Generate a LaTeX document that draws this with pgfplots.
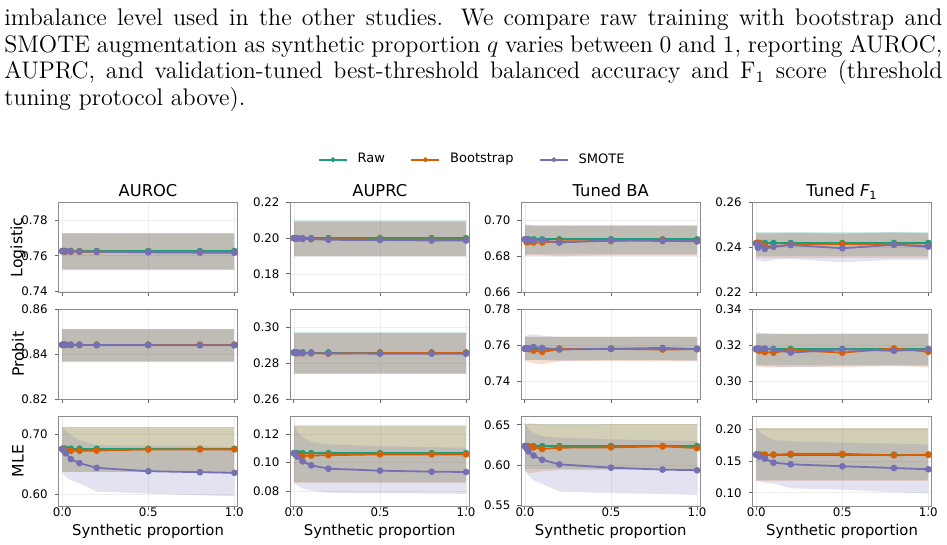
\documentclass[border=0pt]{standalone}
\usepackage{fontspec}
\usepackage{pgfplots}
\pgfplotsset{compat=1.18}
\usepackage{pgfplotstable}
\newfontfamily\dejavu{DejaVu Sans}
\definecolor{craw}{HTML}{1B9E77}
\definecolor{cboot}{HTML}{D95F02}
\definecolor{csmote}{HTML}{7570B3}

% mean curves: x, raw, bootstrap, smote
\pgfplotstableread{
x    rm     bm     sm
0    0.7627 0.7626 0.7626
0.01 0.7627 0.7625 0.7626
0.02 0.7627 0.7624 0.7625
0.05 0.7627 0.7624 0.7624
0.1  0.7627 0.7624 0.7624
0.2  0.7627 0.7623 0.7623
0.5  0.7627 0.7622 0.7620
0.8  0.7627 0.7621 0.7618
1.0  0.7627 0.7620 0.7618
}\tLA
\pgfplotstableread{
x    rm     bm     sm
0    0.2000 0.2000 0.2000
0.01 0.2000 0.1999 0.1999
0.02 0.2000 0.1998 0.1998
0.05 0.2000 0.1996 0.1997
0.1  0.2000 0.1995 0.1996
0.2  0.2000 0.1994 0.1991
0.5  0.2000 0.1993 0.1990
0.8  0.2000 0.1992 0.1987
1.0  0.2000 0.1992 0.1987
}\tLP
\pgfplotstableread{
x    rm     bm     sm
0    0.6893 0.6893 0.6893
0.01 0.6893 0.6877 0.6891
0.02 0.6893 0.6878 0.6889
0.05 0.6893 0.6876 0.6888
0.1  0.6893 0.6876 0.6888
0.2  0.6893 0.6882 0.6875
0.5  0.6893 0.6884 0.6888
0.8  0.6893 0.6891 0.6884
1.0  0.6893 0.6883 0.6883
}\tLB
\pgfplotstableread{
x    rm     bm     sm
0    0.2419 0.2419 0.2416
0.01 0.2419 0.2418 0.2398
0.02 0.2419 0.2418 0.2408
0.05 0.2419 0.2406 0.2393
0.1  0.2419 0.2403 0.2403
0.2  0.2419 0.2412 0.2410
0.5  0.2419 0.2415 0.2396
0.8  0.2419 0.2412 0.2411
1.0  0.2419 0.2406 0.2403
}\tLF
\pgfplotstableread{
x    rm     bm     sm
0    0.8443 0.8442 0.8442
0.01 0.8443 0.8442 0.8442
0.02 0.8443 0.8442 0.8442
0.05 0.8443 0.8442 0.8442
0.1  0.8443 0.8442 0.8442
0.2  0.8443 0.8442 0.8441
0.5  0.8443 0.8442 0.8441
0.8  0.8443 0.8442 0.8440
1.0  0.8443 0.8442 0.8440
}\tPA
\pgfplotstableread{
x    rm     bm     sm
0    0.2860 0.2858 0.2859
0.01 0.2860 0.2857 0.2857
0.02 0.2860 0.2856 0.2856
0.05 0.2860 0.2855 0.2856
0.1  0.2860 0.2856 0.2856
0.2  0.2860 0.2854 0.2855
0.5  0.2860 0.2856 0.2853
0.8  0.2860 0.2856 0.2853
1.0  0.2860 0.2856 0.2853
}\tPP
\pgfplotstableread{
x    rm     bm     sm
0    0.7583 0.7583 0.7583
0.01 0.7583 0.7582 0.7584
0.02 0.7583 0.7580 0.7585
0.05 0.7583 0.7572 0.7592
0.1  0.7583 0.7565 0.7587
0.2  0.7583 0.7580 0.7578
0.5  0.7583 0.7582 0.7582
0.8  0.7583 0.7578 0.7587
1.0  0.7583 0.7580 0.7580
}\tPB
\pgfplotstableread{
x    rm     bm     sm
0    0.3180 0.3178 0.3182
0.01 0.3180 0.3175 0.3181
0.02 0.3180 0.3170 0.3180
0.05 0.3180 0.3163 0.3183
0.1  0.3180 0.3160 0.3178
0.2  0.3180 0.3174 0.3160
0.5  0.3180 0.3160 0.3178
0.8  0.3180 0.3183 0.3170
1.0  0.3180 0.3165 0.3178
}\tPF
\pgfplotstableread{
x    rm     bm     sm
0    0.6760 0.6755 0.6755
0.01 0.6760 0.6745 0.6726
0.02 0.6760 0.6735 0.6685
0.05 0.6760 0.6726 0.6587
0.1  0.6760 0.6726 0.6520
0.2  0.6760 0.6730 0.6441
0.5  0.6760 0.6748 0.6385
0.8  0.6760 0.6750 0.6369
1.0  0.6760 0.6750 0.6358
}\tMA
\pgfplotstableread{
x    rm     bm     sm
0    0.1066 0.1066 0.1066
0.01 0.1066 0.1060 0.1055
0.02 0.1066 0.1052 0.1042
0.05 0.1066 0.1048 0.1009
0.1  0.1066 0.1050 0.0981
0.2  0.1066 0.1052 0.0958
0.5  0.1066 0.1058 0.0944
0.8  0.1066 0.1058 0.0937
1.0  0.1066 0.1058 0.0935
}\tMP
\pgfplotstableread{
x    rm     bm     sm
0    0.6235 0.6235 0.6235
0.01 0.6235 0.6230 0.6202
0.02 0.6235 0.6228 0.6170
0.05 0.6235 0.6220 0.6118
0.1  0.6235 0.6200 0.6065
0.2  0.6235 0.6216 0.6008
0.5  0.6235 0.6220 0.5967
0.8  0.6235 0.6232 0.5943
1.0  0.6235 0.6212 0.5935
}\tMB
\pgfplotstableread{
x    rm     bm     sm
0    0.1600 0.1600 0.1600
0.01 0.1600 0.1598 0.1590
0.02 0.1600 0.1595 0.1570
0.05 0.1600 0.1597 0.1536
0.1  0.1600 0.1598 0.1474
0.2  0.1600 0.1612 0.1448
0.5  0.1600 0.1612 0.1417
0.8  0.1600 0.1590 0.1390
1.0  0.1600 0.1600 0.1370
}\tMF

\tikzset{ln/.style={#1, line width=0.9pt, mark=*, mark size=1.2pt, mark options={solid, fill=#1, draw=#1}}}
\pgfplotsset{
  panel/.style={
    scale only axis, width=89.75pt, height=45pt,
    xmin=-0.023, xmax=1.02, xtick={0,0.5,1},
    axis line style={black!45, line width=0.5pt},
    tick pos=left, tick align=outside, major tick length=1.8pt,
    tick style={black!60, line width=0.5pt},
    grid=major, grid style={black!7, line width=0.4pt},
    /pgf/number format/assume math mode=true,
    ticklabel style={font=\dejavu\fontsize{5.9}{6}\selectfont},
    yticklabel style={/pgf/number format/fixed, /pgf/number format/fixed zerofill, /pgf/number format/precision=2},
    xticklabel style={inner sep=0pt, yshift=1pt, /pgf/number format/fixed, /pgf/number format/fixed zerofill, /pgf/number format/precision=1},
    every axis title shift=0pt,
    title style={font=\dejavu\fontsize{8.15}{9}\selectfont, at={(0.5,1)}, anchor=base, yshift=2.9pt},
    every axis y label/.style={at={(-0.2246,0.5)}, rotate=90, anchor=center, font=\dejavu\fontsize{7.85}{9}\selectfont},
    every axis x label/.style={at={(0.5,0)}, anchor=base, yshift=-14.9pt, font=\dejavu\fontsize{7.4}{9}\selectfont},
    anchor=north west,
  },
  noxlab/.style={xticklabels={}},
}
\newcommand\band[2]{\addplot[draw=none, fill=#1, fill opacity=0.2, forget plot] coordinates {#2};}
\newcommand\means[1]{%
  \addplot[ln=craw] table[x=x,y=rm]{#1};
  \addplot[ln=cboot] table[x=x,y=bm]{#1};
  \addplot[ln=csmote] table[x=x,y=sm]{#1};
}

\begin{document}
\begin{tikzpicture}
\path[use as bounding box] (0,0) rectangle (473.5pt,-272.5pt);
\node[anchor=base west, inner sep=0pt, text width=469pt, align=justify, font=\fontsize{12}{13.3}\selectfont] at (2pt,-12.85pt)
{imbalance level used in the other studies.  We compare raw training with bootstrap and\linebreak SMOTE augmentation as synthetic proportion $q$ varies between 0 and 1, reporting AUROC,\linebreak AUPRC, and validation-tuned best-threshold balanced accuracy and F$_1$ score (threshold\linebreak tuning protocol above).};

% ---------------- Row 1: Logistic
\begin{axis}[panel, noxlab, at={(29.15pt,-101.15pt)}, ymin=0.7396, ymax=0.7900, ytick={0.74,0.76,0.78}, title={AUROC}, ylabel={Logistic},
  legend style={at={(2.312,1.473)}, anchor=center, draw=none, fill=none, legend columns=3,
    font=\dejavu\fontsize{6.5}{7}\selectfont,
    /tikz/every odd column/.append style={column sep=3pt},
    /tikz/every even column/.append style={column sep=10.8pt}},
  legend image code/.code={\draw[mark repeat=2, mark phase=2, #1, mark size=0.8pt, line width=0.8pt] plot coordinates {(0pt,0pt) (7pt,0pt) (14pt,0pt)};}]
\band{craw}{(0,0.7730)(1,0.7730)(1,0.7524)(0,0.7524)}
\band{cboot}{(0,0.7726)(1,0.7726)(1,0.7522)(0,0.7522)}
\band{csmote}{(0,0.7724)(0.2,0.7724)(0.5,0.7722)(1,0.7722)(1,0.7521)(0.5,0.7522)(0,0.7522)}
\means{\tLA}
\legend{Raw,Bootstrap,SMOTE}
\end{axis}
\begin{axis}[panel, noxlab, at={(145pt,-101.15pt)}, ymin=0.1697, ymax=0.2201, ytick={0.18,0.20,0.22}, title={AUPRC}]
\band{craw}{(0,0.2100)(1,0.2100)(1,0.1903)(0,0.1903)}
\band{cboot}{(0,0.2095)(1,0.2095)(1,0.1898)(0,0.1898)}
\band{csmote}{(0,0.2088)(1,0.2088)(1,0.1893)(0,0.1893)}
\means{\tLP}
\end{axis}
\begin{axis}[panel, noxlab, at={(260.5pt,-101.15pt)}, ymin=0.6599, ymax=0.7099, ytick={0.66,0.68,0.70}, title={Tuned BA}]
\band{craw}{(0,0.6972)(1,0.6972)(1,0.6812)(0,0.6812)}
\band{cboot}{(0,0.6965)(1,0.6965)(1,0.6802)(0,0.6802)}
\band{csmote}{(0,0.6970)(0.01,0.6978)(0.02,0.6975)(0.05,0.6970)(0.1,0.6970)(0.2,0.6968)(0.5,0.6970)(1,0.6970)(1,0.6805)(0.5,0.6805)(0.2,0.6800)(0.1,0.6805)(0,0.6805)}
\means{\tLB}
\end{axis}
\begin{axis}[panel, noxlab, at={(376.15pt,-101.15pt)}, ymin=0.2199, ymax=0.2601, ytick={0.22,0.24,0.26}, title={Tuned {\itshape F}\textsubscript{1}}]
\band{craw}{(0,0.2470)(1,0.2470)(1,0.2360)(0,0.2360)}
\band{cboot}{(0,0.2465)(1,0.2465)(1,0.2352)(0,0.2352)}
\band{csmote}{(0,0.2465)(0.01,0.2462)(0.02,0.2462)(0.05,0.2460)(0.1,0.2462)(0.2,0.2465)(0.5,0.2460)(0.8,0.2468)(1,0.2462)(1,0.2345)(0.8,0.2345)(0.5,0.2333)(0.2,0.2348)(0.1,0.2345)(0.05,0.2335)(0.02,0.2342)(0.01,0.2340)(0,0.2350)}
\means{\tLF}
\end{axis}

% ---------------- Row 2: Probit
\begin{axis}[panel, noxlab, at={(29.15pt,-154.65pt)}, ymin=0.8199, ymax=0.8601, ytick={0.82,0.84,0.86}, ylabel={Probit}]
\band{craw}{(0,0.8513)(1,0.8513)(1,0.8368)(0,0.8368)}
\band{cboot}{(0,0.8511)(1,0.8511)(1,0.8366)(0,0.8366)}
\band{csmote}{(0,0.8511)(1,0.8511)(1,0.8366)(0,0.8366)}
\means{\tPA}
\end{axis}
\begin{axis}[panel, noxlab, at={(145pt,-154.65pt)}, ymin=0.2599, ymax=0.3100, ytick={0.26,0.28,0.30}]
\band{craw}{(0,0.2975)(1,0.2975)(1,0.2743)(0,0.2743)}
\band{cboot}{(0,0.2970)(1,0.2970)(1,0.2738)(0,0.2738)}
\band{csmote}{(0,0.2968)(1,0.2968)(1,0.2740)(0,0.2740)}
\means{\tPP}
\end{axis}
\begin{axis}[panel, noxlab, at={(260.5pt,-154.65pt)}, ymin=0.7302, ymax=0.7801, ytick={0.74,0.76,0.78}]
\band{craw}{(0,0.7648)(1,0.7648)(1,0.7518)(0,0.7518)}
\band{cboot}{(0,0.7650)(1,0.7650)(1,0.7512)(0.8,0.7512)(0.5,0.7515)(0.2,0.7512)(0.1,0.7497)(0.05,0.7502)(0.02,0.7508)(0.01,0.7512)(0,0.7515)}
\band{csmote}{(0,0.7650)(0.01,0.7655)(0.02,0.7660)(0.05,0.7662)(0.1,0.7655)(0.2,0.7648)(0.5,0.7648)(0.8,0.7650)(1,0.7648)(1,0.7515)(0.8,0.7518)(0.5,0.7518)(0.2,0.7515)(0.1,0.7518)(0.05,0.7522)(0.02,0.7520)(0.01,0.7520)(0,0.7518)}
\means{\tPB}
\end{axis}
\begin{axis}[panel, noxlab, at={(376.15pt,-154.65pt)}, ymin=0.2900, ymax=0.3401, ytick={0.30,0.32,0.34}]
\band{craw}{(0,0.3265)(1,0.3265)(1,0.3092)(0,0.3092)}
\band{cboot}{(0,0.3265)(1,0.3265)(1,0.3080)(0.8,0.3085)(0.5,0.3080)(0.2,0.3082)(0.1,0.3078)(0.05,0.3078)(0.02,0.3080)(0.01,0.3082)(0,0.3085)}
\band{csmote}{(0,0.3265)(0.01,0.3275)(0.02,0.3272)(0.05,0.3268)(0.1,0.3265)(0.2,0.3262)(0.5,0.3265)(1,0.3265)(1,0.3085)(0.5,0.3085)(0.2,0.3078)(0.1,0.3082)(0.05,0.3085)(0.02,0.3088)(0,0.3090)}
\means{\tPF}
\end{axis}

% ---------------- Row 3: MLE
\begin{axis}[panel, at={(29.15pt,-208pt)}, ymin=0.5804, ymax=0.7307, ytick={0.60,0.70}, ylabel={MLE}, xlabel={Synthetic proportion}]
\band{craw}{(0,0.7125)(1,0.7125)(1,0.6380)(0,0.6380)}
\band{cboot}{(0,0.7115)(1,0.7115)(1,0.6370)(0,0.6370)}
\band{csmote}{(0,0.7115)(0.01,0.7090)(0.02,0.7060)(0.05,0.6990)(0.1,0.6900)(0.2,0.6820)(0.5,0.6810)(0.8,0.6800)(1,0.6790)(1,0.5966)(0.8,0.5985)(0.5,0.6010)(0.2,0.6045)(0.1,0.6180)(0.05,0.6235)(0.02,0.6290)(0.01,0.6330)(0,0.6370)}
\means{\tMA}
\end{axis}
\begin{axis}[panel, at={(145pt,-208pt)}, ymin=0.0697, ymax=0.1326, ytick={0.08,0.10,0.12}, xlabel={Synthetic proportion}]
\band{craw}{(0,0.1262)(1,0.1262)(1,0.0862)(0,0.0862)}
\band{cboot}{(0,0.1258)(1,0.1258)(1,0.0858)(0,0.0858)}
\band{csmote}{(0,0.1262)(0.01,0.1240)(0.02,0.1215)(0.05,0.1180)(0.1,0.1145)(0.2,0.1128)(0.5,0.1115)(0.8,0.1108)(1,0.1104)(1,0.0782)(0.8,0.0784)(0.5,0.0786)(0.2,0.0790)(0.1,0.0805)(0.05,0.0820)(0.02,0.0838)(0.01,0.0850)(0,0.0860)}
\means{\tMP}
\end{axis}
\begin{axis}[panel, at={(260.5pt,-208pt)}, ymin=0.5490, ymax=0.6610, ytick={0.55,0.60,0.65}, xlabel={Synthetic proportion}]
\band{craw}{(0,0.6510)(1,0.6510)(1,0.5945)(0,0.5945)}
\band{cboot}{(0,0.6510)(0.01,0.6515)(0.02,0.6518)(0.05,0.6515)(0.1,0.6505)(0.2,0.6505)(0.5,0.6508)(0.8,0.6510)(1,0.6508)(1,0.5935)(0.8,0.5940)(0.5,0.5940)(0.2,0.5935)(0.1,0.5920)(0.05,0.5905)(0.02,0.5900)(0.01,0.5910)(0,0.5925)}
\band{csmote}{(0,0.6510)(0.01,0.6480)(0.02,0.6450)(0.05,0.6400)(0.1,0.6360)(0.2,0.6340)(0.5,0.6320)(0.8,0.6305)(1,0.6300)(1,0.5628)(0.8,0.5640)(0.5,0.5650)(0.2,0.5670)(0.1,0.5766)(0.05,0.5810)(0.02,0.5870)(0.01,0.5900)(0,0.5945)}
\means{\tMB}
\end{axis}
\begin{axis}[panel, at={(376.15pt,-208pt)}, ymin=0.0792, ymax=0.2208, ytick={0.10,0.15,0.20}, xlabel={Synthetic proportion}]
\band{craw}{(0,0.2015)(1,0.2015)(1,0.1198)(0,0.1198)}
\band{cboot}{(0,0.2022)(1,0.2022)(1,0.1185)(0,0.1185)}
\band{csmote}{(0,0.2015)(0.01,0.1990)(0.02,0.1960)(0.05,0.1900)(0.1,0.1830)(0.2,0.1810)(0.5,0.1790)(0.8,0.1775)(1,0.1760)(1,0.0990)(0.8,0.1010)(0.5,0.1050)(0.2,0.1070)(0.1,0.1146)(0.05,0.1160)(0.02,0.1180)(0.01,0.1190)(0,0.1198)}
\means{\tMF}
\end{axis}
\end{tikzpicture}
\end{document}
